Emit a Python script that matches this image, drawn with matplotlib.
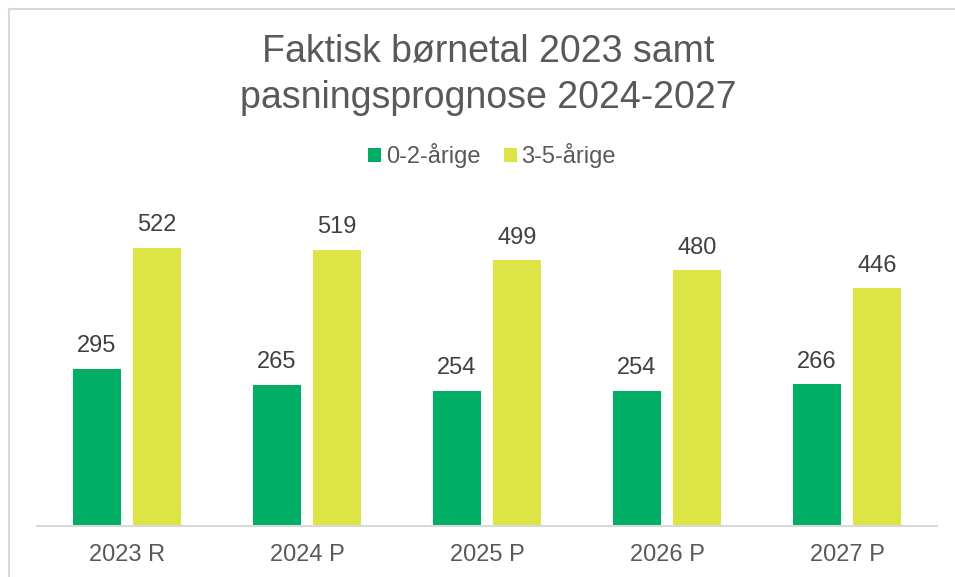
import matplotlib
matplotlib.use("Agg")
import matplotlib.pyplot as plt
from matplotlib.lines import Line2D
from matplotlib.patches import Patch
import numpy as np

plt.rcParams['font.family'] = ['Liberation Sans', 'DejaVu Sans']

categories = ["2023 R", "2024 P", "2025 P", "2026 P", "2027 P"]
series_names = ["0-2-årige", "3-5-årige"]
vals_02 = [295, 265, 254, 254, 266]
vals_35 = [522, 519, 499, 480, 446]
title = "Faktisk børnetal 2023 samt\npasningsprognose 2024-2027"

c_green = "#00AE65"
c_yellow = "#DCE446"
txt = "#595959"
lbl = "#404040"
grid = "#D9D9D9"

W, H = 955, 577
fig = plt.figure(figsize=(W / 100, H / 100), dpi=100)
ax = fig.add_axes([37 / W, (H - 526) / H, 900 / W, 319.6 / H])

x = np.arange(len(categories))
bw = 0.2667
off = 0.1667
b1 = ax.bar(x - off, vals_02, bw, color=c_green, label=series_names[0], zorder=2)
b2 = ax.bar(x + off, vals_35, bw, color=c_yellow, label=series_names[1], zorder=2)

for bars in (b1, b2):
    for r in bars:
        ax.annotate(f"{int(r.get_height())}", (r.get_x() + r.get_width() / 2, r.get_height()),
                    xytext=(0, 12), textcoords="offset points", ha="center", va="baseline",
                    fontsize=17, color=lbl)

ax.set_xlim(-0.5, len(categories) - 0.5)
ax.set_ylim(0, 600)
ax.set_xticks(x)
ax.set_xticklabels(categories, fontsize=17, color=txt)
ax.tick_params(axis="x", length=0, pad=13)
ax.set_yticks([])
for s in ["top", "right", "left"]:
    ax.spines[s].set_visible(False)
ax.spines["bottom"].set_color(grid)
ax.spines["bottom"].set_linewidth(1.5)

fig.text(488 / W, 1 - 75 / H, title, ha="center", va="center", fontsize=27,
         color=txt, linespacing=1.37)

handles = [Patch(facecolor=c_green), Patch(facecolor=c_yellow)]
fig.legend(handles, series_names, loc="center", bbox_to_anchor=(492 / W, 1 - 156 / H),
           ncol=2, frameon=False, fontsize=17, handlelength=0.55, handleheight=0.55,
           handletextpad=0.2, columnspacing=1.0, labelcolor=txt, borderpad=0)

fig.add_artist(Line2D([8.5 / W, 8.5 / W], [0, 1 - 9 / H], transform=fig.transFigure,
                      color=grid, lw=1.5))
fig.add_artist(Line2D([8.5 / W, 1], [1 - 9 / H, 1 - 9 / H], transform=fig.transFigure,
                      color=grid, lw=1.5))

fig.savefig("out.png", dpi=100, facecolor="white")
